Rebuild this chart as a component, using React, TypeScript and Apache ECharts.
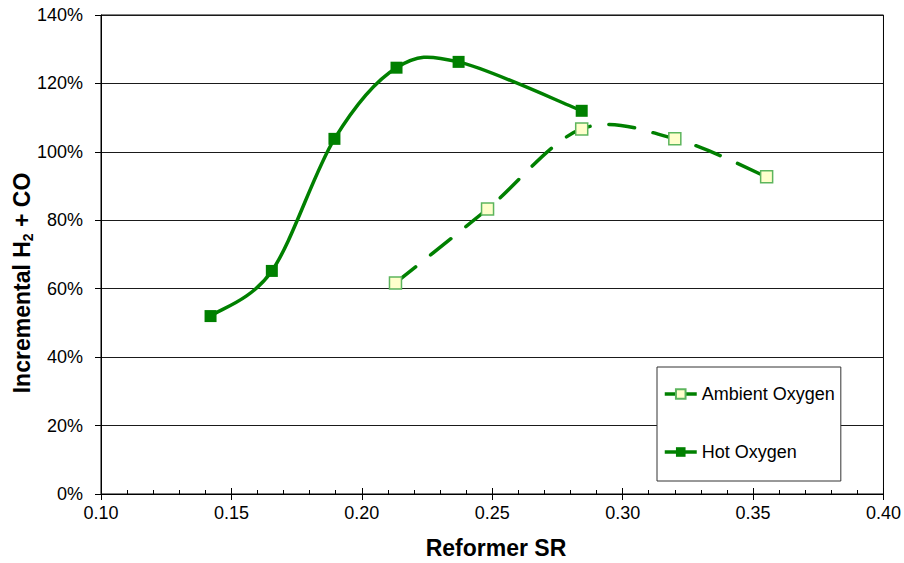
import React, { useEffect, useRef } from "react";
import * as echarts from "echarts";

const hotX = [0.142, 0.1655, 0.1895, 0.2133, 0.2371, 0.2843];
const hotY = [52.0, 65.2, 103.8, 124.6, 126.3, 112.0];
const ambX = [0.2129, 0.2482, 0.2843, 0.32, 0.3552];
const ambY = [61.7, 83.3, 106.7, 103.8, 92.7];
const seriesNames = ["Ambient Oxygen", "Hot Oxygen"];
const xTitle = "Reformer SR";
const yTitleParts = ["Incremental H", "2", " + CO"];

const FONT = "'Liberation Sans', Arial, Helvetica, sans-serif";
const GREEN = "#008000";
const LINE_W = 3.5;

// Catmull-Rom style smoothing (like a spreadsheet's smoothed line), computed in pixel space
function smoothPath(pts: number[][]): string {
  if (!pts.length) return "";
  let d = `M${pts[0][0]},${pts[0][1]}`;
  for (let i = 0; i < pts.length - 1; i++) {
    const p0 = pts[Math.max(0, i - 1)];
    const p1 = pts[i];
    const p2 = pts[i + 1];
    const p3 = pts[Math.min(pts.length - 1, i + 2)];
    const c1x = p1[0] + (p2[0] - p0[0]) / 6;
    const c1y = p1[1] + (p2[1] - p0[1]) / 6;
    const c2x = p2[0] - (p3[0] - p1[0]) / 6;
    const c2y = p2[1] - (p3[1] - p1[1]) / 6;
    d += ` C${c1x},${c1y} ${c2x},${c2y} ${p2[0]},${p2[1]}`;
  }
  return d;
}

function curveSeries(name: string, xs: number[], ys: number[], dash: number[] | null) {
  return {
    name,
    type: "custom",
    xAxisIndex: 0,
    yAxisIndex: 0,
    silent: true,
    z: 2,
    data: xs.map((x, i) => [x, ys[i]]),
    encode: { x: 0, y: 1 },
    renderItem: (params: any, api: any) => {
      if (params.dataIndex !== 0) return null;
      const pts = xs.map((x, i) => api.coord([x, ys[i]]));
      const style: any = {
        stroke: GREEN,
        lineWidth: LINE_W,
        fill: null,
        lineCap: "round",
        lineJoin: "round",
      };
      if (dash) style.lineDash = dash;
      return { type: "path", shape: { pathData: smoothPath(pts) }, style };
    },
  };
}

export default function App() {
  const ref = useRef<HTMLDivElement>(null);
  useEffect(() => {
    if (!ref.current) return;
    const chart = echarts.init(ref.current, null, { renderer: "svg" });
    const gridTop = 15;
    const gridBottom = 69;
    const gridH = 563 - gridTop - gridBottom;
    const legendLine = { color: GREEN, width: LINE_W, opacity: 1, type: "solid" };
    chart.setOption({
      animation: false,
      backgroundColor: "#fff",
      grid: {
        left: 101,
        right: 20,
        top: gridTop,
        bottom: gridBottom,
        show: true,
        borderColor: "#000",
        borderWidth: 1,
        backgroundColor: "transparent",
      },
      xAxis: [
        {
          type: "value",
          min: 0.1,
          max: 0.4,
          interval: 0.05,
          position: "bottom",
          axisLine: { show: true, lineStyle: { color: "#000", width: 1 } },
          axisTick: { show: true, inside: false, length: 6, lineStyle: { color: "#000" } },
          axisLabel: {
            color: "#000",
            fontFamily: FONT,
            fontSize: 18,
            margin: 10,
            formatter: (v: number) => v.toFixed(2),
          },
          splitLine: { show: false },
        },
        {
          type: "value",
          min: 0.1,
          max: 0.4,
          interval: 0.05,
          position: "top",
          offset: -gridH,
          axisLine: { show: false },
          axisTick: { show: true, inside: false, length: 6, lineStyle: { color: "#000" } },
          minorTick: { show: true, splitNumber: 5, length: 4, lineStyle: { color: "#000" } },
          axisLabel: { show: false },
          splitLine: { show: false },
        },
      ],
      yAxis: {
        type: "value",
        min: 0,
        max: 140,
        interval: 20,
        axisLine: { show: true, lineStyle: { color: "#000", width: 1 } },
        axisTick: { show: true, inside: false, length: 6, lineStyle: { color: "#000" } },
        axisLabel: {
          color: "#000",
          fontFamily: FONT,
          fontSize: 18,
          margin: 18,
          formatter: "{value}%",
        },
        splitLine: { show: true, lineStyle: { color: "#1a1a1a", width: 1 } },
      },
      legend: {
        orient: "vertical",
        left: 657,
        top: 367,
        data: [
          { name: seriesNames[0], lineStyle: legendLine },
          { name: seriesNames[1], lineStyle: legendLine },
        ],
        itemWidth: 32,
        itemHeight: 12,
        itemGap: 40,
        padding: [18, 6, 20, 6],
        borderColor: "#333",
        borderWidth: 1,
        backgroundColor: "#fff",
        textStyle: { fontFamily: FONT, fontSize: 18, color: "#000", lineHeight: 18 },
      },
      graphic: [
        {
          type: "text",
          x: 496,
          y: 548,
          style: {
            text: xTitle,
            font: `bold 23px ${FONT}`,
            fill: "#000",
            align: "center",
            verticalAlign: "middle",
          },
        },
        {
          type: "text",
          x: 22,
          y: 283,
          rotation: Math.PI / 2,
          style: {
            text: `{a|${yTitleParts[0]}}{s|${yTitleParts[1]}}{a|${yTitleParts[2]}}`,
            align: "center",
            verticalAlign: "middle",
            fill: "#000",
            rich: {
              a: { fontFamily: FONT, fontWeight: "bold", fontSize: 23, lineHeight: 26, fill: "#000" },
              s: {
                fontFamily: FONT,
                fontWeight: "bold",
                fontSize: 14,
                lineHeight: 14,
                verticalAlign: "bottom",
                fill: "#000",
              },
            },
          },
        },
      ],
      series: [
        curveSeries("Ambient curve", ambX, ambY, [26, 19]),
        curveSeries("Hot curve", hotX, hotY, null),
        {
          name: seriesNames[0],
          type: "line",
          xAxisIndex: 0,
          data: ambX.map((x, i) => [x, ambY[i]]),
          symbol: "rect",
          symbolSize: 12,
          lineStyle: { color: GREEN, width: LINE_W, opacity: 0 },
          itemStyle: { color: "#FFFFCC", borderColor: "#5DB55D", borderWidth: 1.5 },
          z: 3,
        },
        {
          name: seriesNames[1],
          type: "line",
          xAxisIndex: 0,
          data: hotX.map((x, i) => [x, hotY[i]]),
          symbol: "rect",
          symbolSize: 12,
          lineStyle: { color: GREEN, width: LINE_W, opacity: 0 },
          itemStyle: { color: GREEN },
          z: 4,
        },
      ],
    });
    return () => chart.dispose();
  }, []);
  return <div ref={ref} style={{ width: 904, height: 563, position: "absolute", left: 0, top: 0 }} />;
}
